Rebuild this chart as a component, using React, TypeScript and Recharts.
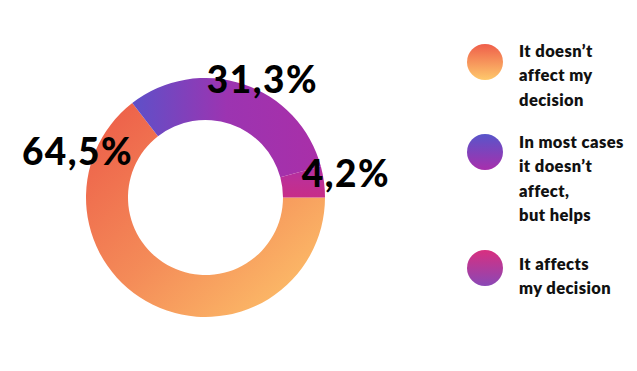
import { PieChart, Pie, Cell, Legend } from "recharts";

const answers = [
    "It doesn’t affect my decision",
    "In most cases it doesn’t affect, but helps",
    "It affects my decision",
];
const shares = [64.5, 31.3, 4.2];
const legendLines = [
    ["It doesn’t", "affect my", "decision"],
    ["In most cases", "it doesn’t", "affect,", "but helps"],
    ["It affects", "my decision"],
];

const data = answers.map((name, i) => ({ name, value: shares[i] }));

// sector gradients (diagonal / horizontal / vertical)
const sliceGradients = [
    { dir: [0, 0, 1, 1], stops: ["#EC5A48", "#F48B58", "#FEC86C"] },
    { dir: [0, 0, 1, 0], stops: ["#5E50C8", "#9C34B1", "#A92FA8"] },
    { dir: [0, 0, 0, 1], stops: ["#B02FA3", "#BE2F95", "#C72D88"] },
];
const dotGradients = [
    ["#EF5E4A", "#FEC96C"],
    ["#5855CA", "#A82FAC"],
    ["#D82F80", "#8A48B6"],
];

// label spot: angle (deg, ccw from 3 o'clock) and radius factor
const labelSpots = [
    { angle: 165.75, r: 1.105 },
    { angle: 61.4, r: 0.996 },
    { angle: 4.27, r: 1.179 },
];

// legend item layout
const legendItems = [
    { top: 38.9, dotTop: 5.1 },
    { top: 129.6, dotTop: 4.7 },
    { top: 251.7, dotTop: -2 },
];

const RADIAN = Math.PI / 180;

const fmt = (v: number) => `${v.toFixed(1).replace(".", ",")}%`;

function renderLabel(props: any) {
    const { cx, cy, outerRadius, index, value } = props;
    const spot = labelSpots[index];
    const r = outerRadius * spot.r;
    const x = cx + r * Math.cos(-spot.angle * RADIAN);
    const y = cy + r * Math.sin(-spot.angle * RADIAN);
    return (
        <text
            x={x}
            y={y}
            textAnchor="middle"
            fill="#000"
            style={{ fontFamily: "Lato, sans-serif", fontWeight: 900, fontSize: 37, letterSpacing: 1.5 }}
        >
            {fmt(value)}
        </text>
    );
}

function renderLegend() {
    return (
        <div style={{ position: "relative", width: 170, height: 371 }}>
            {legendLines.map((lines, i) => (
                <div
                    key={i}
                    style={{ position: "absolute", left: 0, top: legendItems[i].top, display: "flex" }}
                >
                    <div
                        style={{
                            width: 36,
                            height: 36,
                            borderRadius: "50%",
                            marginTop: legendItems[i].dotTop,
                            background: `linear-gradient(180deg, ${dotGradients[i][0]}, ${dotGradients[i][1]})`,
                            flexShrink: 0,
                        }}
                    />
                    <div
                        style={{
                            marginLeft: 16,
                            fontFamily: "Lato, sans-serif",
                            fontWeight: 800,
                            fontSize: 16.5,
                            letterSpacing: 0.4,
                            lineHeight: "24.5px",
                            color: "#111",
                            whiteSpace: "nowrap",
                        }}
                    >
                        {lines.map((l) => (
                            <div key={l}>{l}</div>
                        ))}
                    </div>
                </div>
            ))}
        </div>
    );
}

export default function App() {
    return (
        <div style={{ position: "absolute", left: 0, top: 0, width: 637, height: 371, background: "#fff" }}>
            <PieChart width={637} height={371} margin={{ top: 0, right: 0, bottom: 0, left: 0 }}>
                <defs>
                    {sliceGradients.map((g, i) => (
                        <linearGradient key={i} id={`slice${i}`} x1={g.dir[0]} y1={g.dir[1]} x2={g.dir[2]} y2={g.dir[3]}>
                            <stop offset="0%" stopColor={g.stops[0]} />
                            <stop offset="50%" stopColor={g.stops[1]} />
                            <stop offset="100%" stopColor={g.stops[2]} />
                        </linearGradient>
                    ))}
                </defs>
                <Pie
                    data={data}
                    dataKey="value"
                    nameKey="name"
                    cx={205.5}
                    cy={197.5}
                    innerRadius={77.5}
                    outerRadius={119.5}
                    startAngle={0}
                    endAngle={-360}
                    stroke="none"
                    labelLine={false}
                    label={renderLabel}
                    isAnimationActive={false}
                >
                    {data.map((d, i) => (
                        <Cell key={d.name} fill={`url(#slice${i})`} />
                    ))}
                </Pie>
                <Legend
                    layout="vertical"
                    align="right"
                    verticalAlign="top"
                    content={renderLegend}
                    wrapperStyle={{ position: "absolute", left: 467, top: 0, width: 170, height: 371 }}
                />
            </PieChart>
        </div>
    );
}
